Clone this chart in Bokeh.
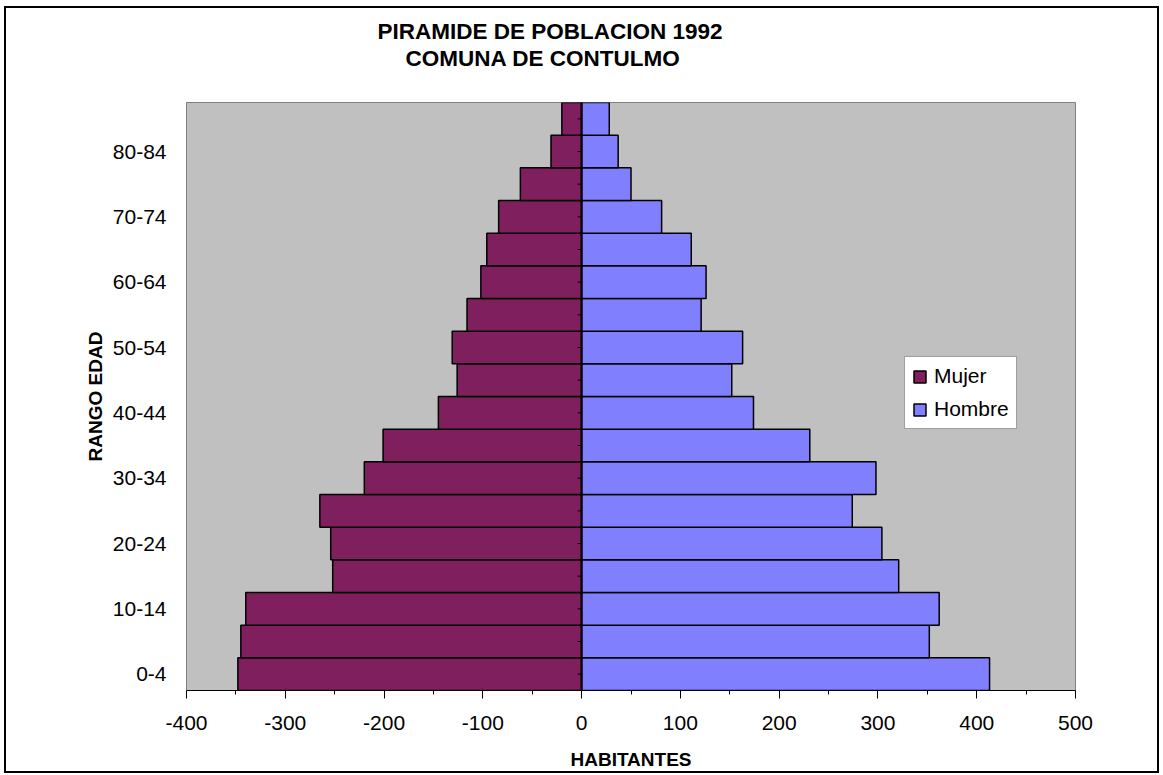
from bokeh.plotting import figure
from bokeh.models import (Range1d, FixedTicker, Span, Title, InlineStyleSheet,
                          Legend, LegendItem, ColumnDataSource)
from bokeh.embed import file_html
from bokeh.resources import INLINE

# ---- data ----
age_groups = ["0-4", "5-9", "10-14", "15-19", "20-24", "25-29", "30-34", "35-39",
              "40-44", "45-49", "50-54", "55-59", "60-64", "65-69", "70-74",
              "75-79", "80-84", "85+"]
mujer = [-348, -345, -340, -252, -254, -265, -220, -201, -145, -126, -131,
         -116, -102, -96, -84, -62, -31, -20]
hombre = [413, 352, 362, 321, 304, 274, 298, 231, 174, 152, 163, 121, 126,
          111, 81, 50, 37, 28]
series_names = ["Mujer", "Hombre"]
x_ticks = [-400, -300, -200, -100, 0, 100, 200, 300, 400, 500]
title_lines = ["PIRAMIDE DE POBLACION 1992", "COMUNA DE CONTULMO"]
x_label = "HABITANTES"
y_label = "RANGO EDAD"
shown_every = 2

FONT = "Liberation Sans"
C_MUJER = "#7F1F5E"
C_HOMBRE = "#8080FF"

idx = list(range(len(age_groups)))
src = ColumnDataSource(dict(y=idx, age=age_groups, mujer=mujer, hombre=hombre,
                            zero=[0] * len(idx), tick=[-4] * len(idx)))

border_css = InlineStyleSheet(css="""
:host { position: relative; }
:host::after {
  content: "";
  position: absolute;
  top: 6px; left: 4px; right: 4px; bottom: 2px;
  border: 2px solid black;
  z-index: 1000;
  pointer-events: none;
}
""")

p = figure(width=1163, height=775,
           x_range=Range1d(x_ticks[0], x_ticks[-1]),
           y_range=Range1d(-0.5, len(idx) - 0.5),
           output_backend="svg", toolbar_location=None,
           min_border_left=186, min_border_right=88,
           min_border_top=102, min_border_bottom=85,
           background_fill_color="#C0C0C0",
           border_fill_color="white",
           outline_line_color="#808080", outline_line_width=1,
           stylesheets=[border_css])

p.xgrid.visible = False
p.ygrid.visible = False

rm = p.hbar(y="y", left="mujer", right="zero", height=1.0, source=src,
            fill_color=C_MUJER, line_color="black", line_width=1.5)
rh = p.hbar(y="y", left="zero", right="hombre", height=1.0, source=src,
            fill_color=C_HOMBRE, line_color="black", line_width=1.5)

p.add_layout(Span(location=0, dimension="height", line_color="black", line_width=2))
p.segment(x0="zero", x1="tick", y0="y", y1="y", source=src,
          line_color="black", line_width=1)

# x axis
xa = p.xaxis[0]
xa.ticker = FixedTicker(ticks=x_ticks,
                        minor_ticks=[(a + b) / 2 for a, b in zip(x_ticks[:-1], x_ticks[1:])])
xa.major_label_overrides = {t: str(t) for t in x_ticks}
xa.axis_line_color = "black"
xa.axis_line_width = 1
xa.major_tick_line_color = "black"
xa.minor_tick_line_color = "black"
xa.major_tick_in = 0
xa.major_tick_out = 8
xa.minor_tick_in = 0
xa.minor_tick_out = 4
xa.major_label_text_font = FONT
xa.major_label_text_font_size = "21px"
xa.major_label_text_color = "black"
xa.major_label_standoff = 17
xa.axis_label = x_label
xa.axis_label_text_font = FONT
xa.axis_label_text_font_size = "19px"
xa.axis_label_text_font_style = "bold"
xa.axis_label_text_color = "black"
xa.axis_label_standoff = 16

# y axis
ya = p.yaxis[0]
ya.ticker = FixedTicker(ticks=idx[::shown_every])
ya.major_label_overrides = {i: age_groups[i] for i in idx[::shown_every]}
ya.axis_line_color = None
ya.major_tick_line_color = None
ya.minor_tick_line_color = None
ya.major_label_text_font = FONT
ya.major_label_text_font_size = "21px"
ya.major_label_text_color = "black"
ya.major_label_standoff = 14
ya.axis_label = y_label
ya.axis_label_text_font = FONT
ya.axis_label_text_font_size = "19px"
ya.axis_label_text_font_style = "bold"
ya.axis_label_text_color = "black"
ya.axis_label_standoff = 4

# titles: spacer first (closest to plot), then line 2, then line 1
p.add_layout(Title(text=" ", text_font_size="1px", standoff=29), "above")
p.add_layout(Title(text=title_lines[1], align="left", offset=219,
                   text_font=FONT, text_font_size="22.5px", text_font_style="bold",
                   text_color="black", standoff=0), "above")
p.add_layout(Title(text=title_lines[0], align="left", offset=191,
                   text_font=FONT, text_font_size="22.5px", text_font_style="bold",
                   text_color="black", standoff=0), "above")

legend = Legend(items=[LegendItem(label=series_names[0], renderers=[rm]),
                       LegendItem(label=series_names[1], renderers=[rh])],
                location=(718, 261), orientation="vertical",
                label_text_font=FONT, label_text_font_size="21px",
                label_text_color="black",
                glyph_width=15, glyph_height=15, label_height=24,
                label_standoff=7, spacing=9, padding=7, margin=0,
                border_line_color="#404040", border_line_width=1,
                background_fill_color="white", background_fill_alpha=1.0)
p.add_layout(legend)

open("out.html", "w").write(file_html(p, INLINE))
